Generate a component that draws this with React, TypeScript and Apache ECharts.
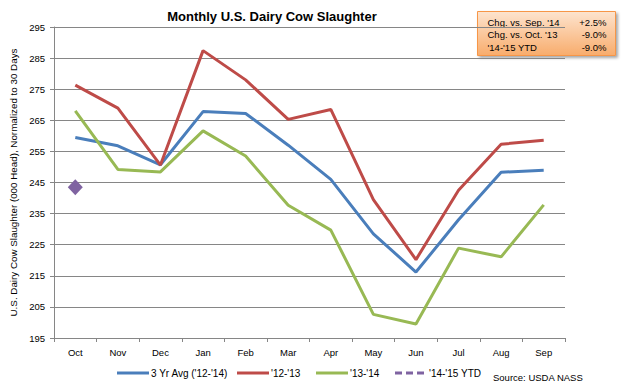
import React, { useEffect, useRef } from "react";
import * as echarts from "echarts";

const months = ["Oct", "Nov", "Dec", "Jan", "Feb", "Mar", "Apr", "May", "Jun", "Jul", "Aug", "Sep"];
const avg3yr = [259.5, 256.8, 250.7, 267.8, 267.2, 257.0, 246.0, 228.5, 216.2, 233.0, 248.3, 248.9];
const y1213 = [276.3, 268.9, 250.6, 287.4, 278.0, 265.3, 268.5, 239.5, 220.2, 242.5, 257.3, 258.6];
const y1314 = [268.0, 249.2, 248.4, 261.6, 253.5, 237.7, 229.7, 202.6, 199.5, 223.9, 221.1, 237.8];
const y1415 = [243.5, null, null, null, null, null, null, null, null, null, null, null];
const seriesNames = ["3 Yr Avg ('12-'14)", "'12-'13", "'13-'14", "'14-'15 YTD"];
const boxLabels = ["Chg. vs. Sep. '14", "Chg. vs. Oct. '13", "'14-'15 YTD"];
const boxValues = ["+2.5%", "-9.0%", "-9.0%"];

const FONT = "Liberation Sans";

export default function App() {
  const ref = useRef<HTMLDivElement>(null);
  useEffect(() => {
    if (!ref.current) return;
    const chart = echarts.init(ref.current, undefined, { renderer: "svg" });
    const colors = ["#4A7EBB", "#BE4B48", "#98B954", "#7F63A1"];
    const legendX = [117, 237, 316, 395];
    const legendY = 373;
    const legendGraphics: any[] = [];
    seriesNames.forEach((n, i) => {
      legendGraphics.push({
        type: "line",
        shape: { x1: legendX[i], y1: legendY, x2: legendX[i] + 32, y2: legendY },
        style: {
          stroke: colors[i],
          lineWidth: 3,
          lineDash: i === 3 ? [7, 4] : null,
        },
      });
      legendGraphics.push({
        type: "text",
        x: legendX[i] + 34,
        y: legendY,
        style: { text: n, fontFamily: FONT, fontSize: 10, fill: "#000", verticalAlign: "middle" },
      });
    });
    const option: any = {
      animation: false,
      backgroundColor: "#fff",
      textStyle: { fontFamily: FONT },
      title: {
        text: "Monthly U.S. Dairy Cow Slaughter",
        left: 267,
        textAlign: "center",
        top: 5,
        textStyle: { fontFamily: FONT, fontSize: 13, fontWeight: "bold", color: "#000" },
      },
      grid: { left: 53, right: 63, top: 27, bottom: 50, containLabel: false },
      xAxis: {
        type: "category",
        data: months,
        boundaryGap: true,
        axisLine: { lineStyle: { color: "#868686", width: 1 } },
        axisTick: { show: true, alignWithLabel: false, length: 4, lineStyle: { color: "#868686" } },
        axisLabel: { color: "#000", fontSize: 9.5, fontFamily: FONT, margin: 9 },
      },
      yAxis: {
        type: "value",
        min: 195,
        max: 295,
        interval: 10,
        name: "U.S. Dairy Cow Slaughter (000 Head), Normalized to 30 Days",
        nameLocation: "middle",
        nameGap: 36,
        nameTextStyle: { fontFamily: FONT, fontSize: 9.8, color: "#000" },
        axisLine: { show: true, lineStyle: { color: "#868686" } },
        axisTick: { show: true, length: 4, lineStyle: { color: "#868686" } },
        axisLabel: { color: "#000", fontSize: 9.5, fontFamily: FONT, margin: 9 },
        splitLine: { lineStyle: { color: "#868686", width: 1 } },
      },
      series: [
        { name: seriesNames[0], type: "line", data: avg3yr, symbol: "none", lineStyle: { color: colors[0], width: 3 }, itemStyle: { color: colors[0] } },
        { name: seriesNames[1], type: "line", data: y1213, symbol: "none", lineStyle: { color: colors[1], width: 3 }, itemStyle: { color: colors[1] } },
        { name: seriesNames[2], type: "line", data: y1314, symbol: "none", lineStyle: { color: colors[2], width: 3 }, itemStyle: { color: colors[2] } },
        { name: seriesNames[3], type: "line", data: y1415, symbol: "diamond", symbolSize: [15, 16], lineStyle: { color: colors[3], width: 3, type: "dashed" }, itemStyle: { color: colors[3] } },
      ],
      graphic: [
        ...legendGraphics,
        {
          type: "text",
          left: 493,
          top: 372,
          style: { text: "Source: USDA NASS", fontFamily: FONT, fontSize: 9.5, fill: "#000" },
        },
        {
          type: "group",
          left: 477,
          top: 11,
          children: [
            {
              type: "rect",
              shape: { x: 0, y: 0, width: 138, height: 44 },
              style: {
                fill: new echarts.graphic.LinearGradient(0, 0, 0, 1, [
                  { offset: 0, color: "#FDE4CF" },
                  { offset: 1, color: "#F8AC6C" },
                ]),
                stroke: "#F79646",
                lineWidth: 1,
                shadowBlur: 3,
                shadowOffsetX: 2,
                shadowOffsetY: 2,
                shadowColor: "rgba(0,0,0,0.35)",
              },
            },
            ...boxLabels.map((t, i) => ({
              type: "text",
              x: 10,
              y: 5.5 + i * 12.7,
              style: { text: t, fontFamily: FONT, fontSize: 9.5, fill: "#000" },
            })),
            ...boxValues.map((t, i) => ({
              type: "text",
              x: 129,
              y: 5.5 + i * 12.7,
              style: { text: t, fontFamily: FONT, fontSize: 9.5, fill: "#000", align: "right" },
            })),
          ],
        },
      ],
    };
    chart.setOption(option);
    return () => chart.dispose();
  }, []);
  return <div ref={ref} style={{ width: 628, height: 388, position: "absolute", left: 0, top: 0 }} />;
}
